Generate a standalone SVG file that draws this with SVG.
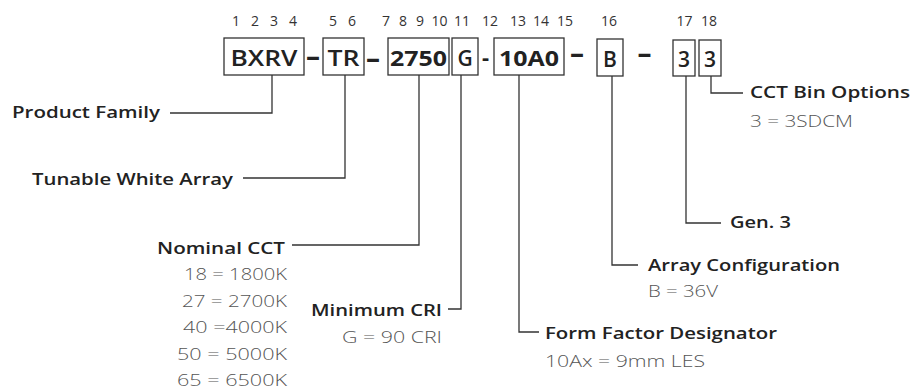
<svg xmlns="http://www.w3.org/2000/svg" width="915" height="392" viewBox="0 0 915 392">
<style>
text{font-family:"Open Sans",Lato,"Liberation Sans",sans-serif}
.idx{font-size:14px;fill:#333;text-anchor:middle}
.box{fill:#fff;stroke:#333;stroke-width:1.3}
.code{font-size:21px;font-weight:600;fill:#222;text-anchor:middle}
.dash{font-size:28px;font-weight:700;fill:#222;text-anchor:middle}
.lbl{font-size:17px;font-weight:600;fill:#222}
.val{font-size:17px;font-weight:300;fill:#555}
.end{text-anchor:end}
.conn path{fill:none;stroke:#333;stroke-width:1.3}
</style>
<rect width="915" height="392" fill="#fff"/>
<g id="index-numbers">
<text class="idx" x="236" y="26">1</text>
<text class="idx" x="255" y="26">2</text>
<text class="idx" x="274" y="26">3</text>
<text class="idx" x="293" y="26">4</text>
<text class="idx" x="333" y="26">5</text>
<text class="idx" x="352" y="26">6</text>
<text class="idx" x="386" y="26">7</text>
<text class="idx" x="403" y="26">8</text>
<text class="idx" x="420" y="26">9</text>
<text class="idx" x="439.5" y="26">10</text>
<text class="idx" x="462" y="26">11</text>
<text class="idx" x="490" y="26">12</text>
<text class="idx" x="518" y="26">13</text>
<text class="idx" x="541" y="26">14</text>
<text class="idx" x="565" y="26">15</text>
<text class="idx" x="609" y="26">16</text>
<text class="idx" x="684.5" y="26">17</text>
<text class="idx" x="709" y="26">18</text>
</g>
<g id="code-bxrv"><rect class="box" x="224" y="38" width="80" height="37"/><text class="code" x="264" y="66" textLength="67" lengthAdjust="spacingAndGlyphs">BXRV</text></g>
<g id="code-tr"><rect class="box" x="323" y="38" width="41" height="37"/><text class="code" x="343.5" y="66" textLength="32" lengthAdjust="spacingAndGlyphs">TR</text></g>
<g id="code-2750"><rect class="box" x="388" y="38" width="61" height="37"/><text class="code" x="418.5" y="66" textLength="57" lengthAdjust="spacingAndGlyphs" style="font-weight:700">2750</text></g>
<g id="code-g"><rect class="box" x="452" y="38" width="26" height="37"/><text class="code" x="465" y="66">G</text></g>
<g id="code-10a0"><rect class="box" x="494" y="38" width="70" height="37"/><text class="code" x="529" y="66" textLength="60" lengthAdjust="spacingAndGlyphs" style="font-weight:700">10A0</text></g>
<g id="code-b"><rect class="box" x="597" y="39" width="26" height="37"/><text class="code" x="610" y="67">B</text></g>
<g id="code-3a"><rect class="box" x="673" y="40" width="22" height="36"/><text class="code" x="684" y="67">3</text></g>
<g id="code-3b"><rect class="box" x="699" y="40" width="22" height="36"/><text class="code" x="710" y="67">3</text></g>
<g id="dashes">
<text class="dash" x="313" y="65.5">–</text>
<text class="dash" x="373" y="68">–</text>
<text class="dash" x="485.5" y="65" style="font-size:22px">-</text>
<text class="dash" x="577" y="63">–</text>
<text class="dash" x="644.5" y="63">–</text>
</g>
<g id="connectors" class="conn">
<path d="M272,75V113H170"/>
<path d="M345,75V178H243"/>
<path d="M419,75V245H292"/>
<path d="M461,75V309H448"/>
<path d="M519,75V332H539"/>
<path d="M612,76V265H638"/>
<path d="M686,76V223H721"/>
<path d="M711,76V93H743"/>
</g>
<g id="label-product-family"><text class="lbl end" x="160" y="118" textLength="148" lengthAdjust="spacingAndGlyphs">Product Family</text></g>
<g id="label-tunable-white"><text class="lbl end" x="233" y="185" textLength="201" lengthAdjust="spacingAndGlyphs">Tunable White Array</text></g>
<g id="label-nominal-cct">
<text class="lbl end" x="285" y="254" textLength="128" lengthAdjust="spacingAndGlyphs">Nominal CCT</text>
<text class="val end" x="287" y="280" textLength="103" lengthAdjust="spacingAndGlyphs">18 = 1800K</text>
<text class="val end" x="287" y="306.5" textLength="105" lengthAdjust="spacingAndGlyphs">27 = 2700K</text>
<text class="val end" x="287" y="333" textLength="104" lengthAdjust="spacingAndGlyphs">40 =4000K</text>
<text class="val end" x="287" y="359.5" textLength="110" lengthAdjust="spacingAndGlyphs">50 = 5000K</text>
<text class="val end" x="287" y="386" textLength="110" lengthAdjust="spacingAndGlyphs">65 = 6500K</text>
</g>
<g id="label-minimum-cri">
<text class="lbl end" x="442" y="316" textLength="131" lengthAdjust="spacingAndGlyphs">Minimum CRI</text>
<text class="val end" x="442" y="343" textLength="100" lengthAdjust="spacingAndGlyphs">G = 90 CRI</text>
</g>
<g id="label-form-factor">
<text class="lbl" x="545" y="339" textLength="232" lengthAdjust="spacingAndGlyphs">Form Factor Designator</text>
<text class="val" x="545" y="367" textLength="160" lengthAdjust="spacingAndGlyphs">10Ax = 9mm LES</text>
</g>
<g id="label-array-config">
<text class="lbl" x="648" y="271" textLength="192" lengthAdjust="spacingAndGlyphs">Array Configuration</text>
<text class="val" x="648" y="297" textLength="70" lengthAdjust="spacingAndGlyphs">B = 36V</text>
</g>
<g id="label-gen"><text class="lbl" x="730" y="228" textLength="61" lengthAdjust="spacingAndGlyphs">Gen. 3</text></g>
<g id="label-cct-bin">
<text class="lbl" x="750" y="98" textLength="160" lengthAdjust="spacingAndGlyphs">CCT Bin Options</text>
<text class="val" x="750" y="127" textLength="103" lengthAdjust="spacingAndGlyphs">3 = 3SDCM</text>
</g>
</svg>
